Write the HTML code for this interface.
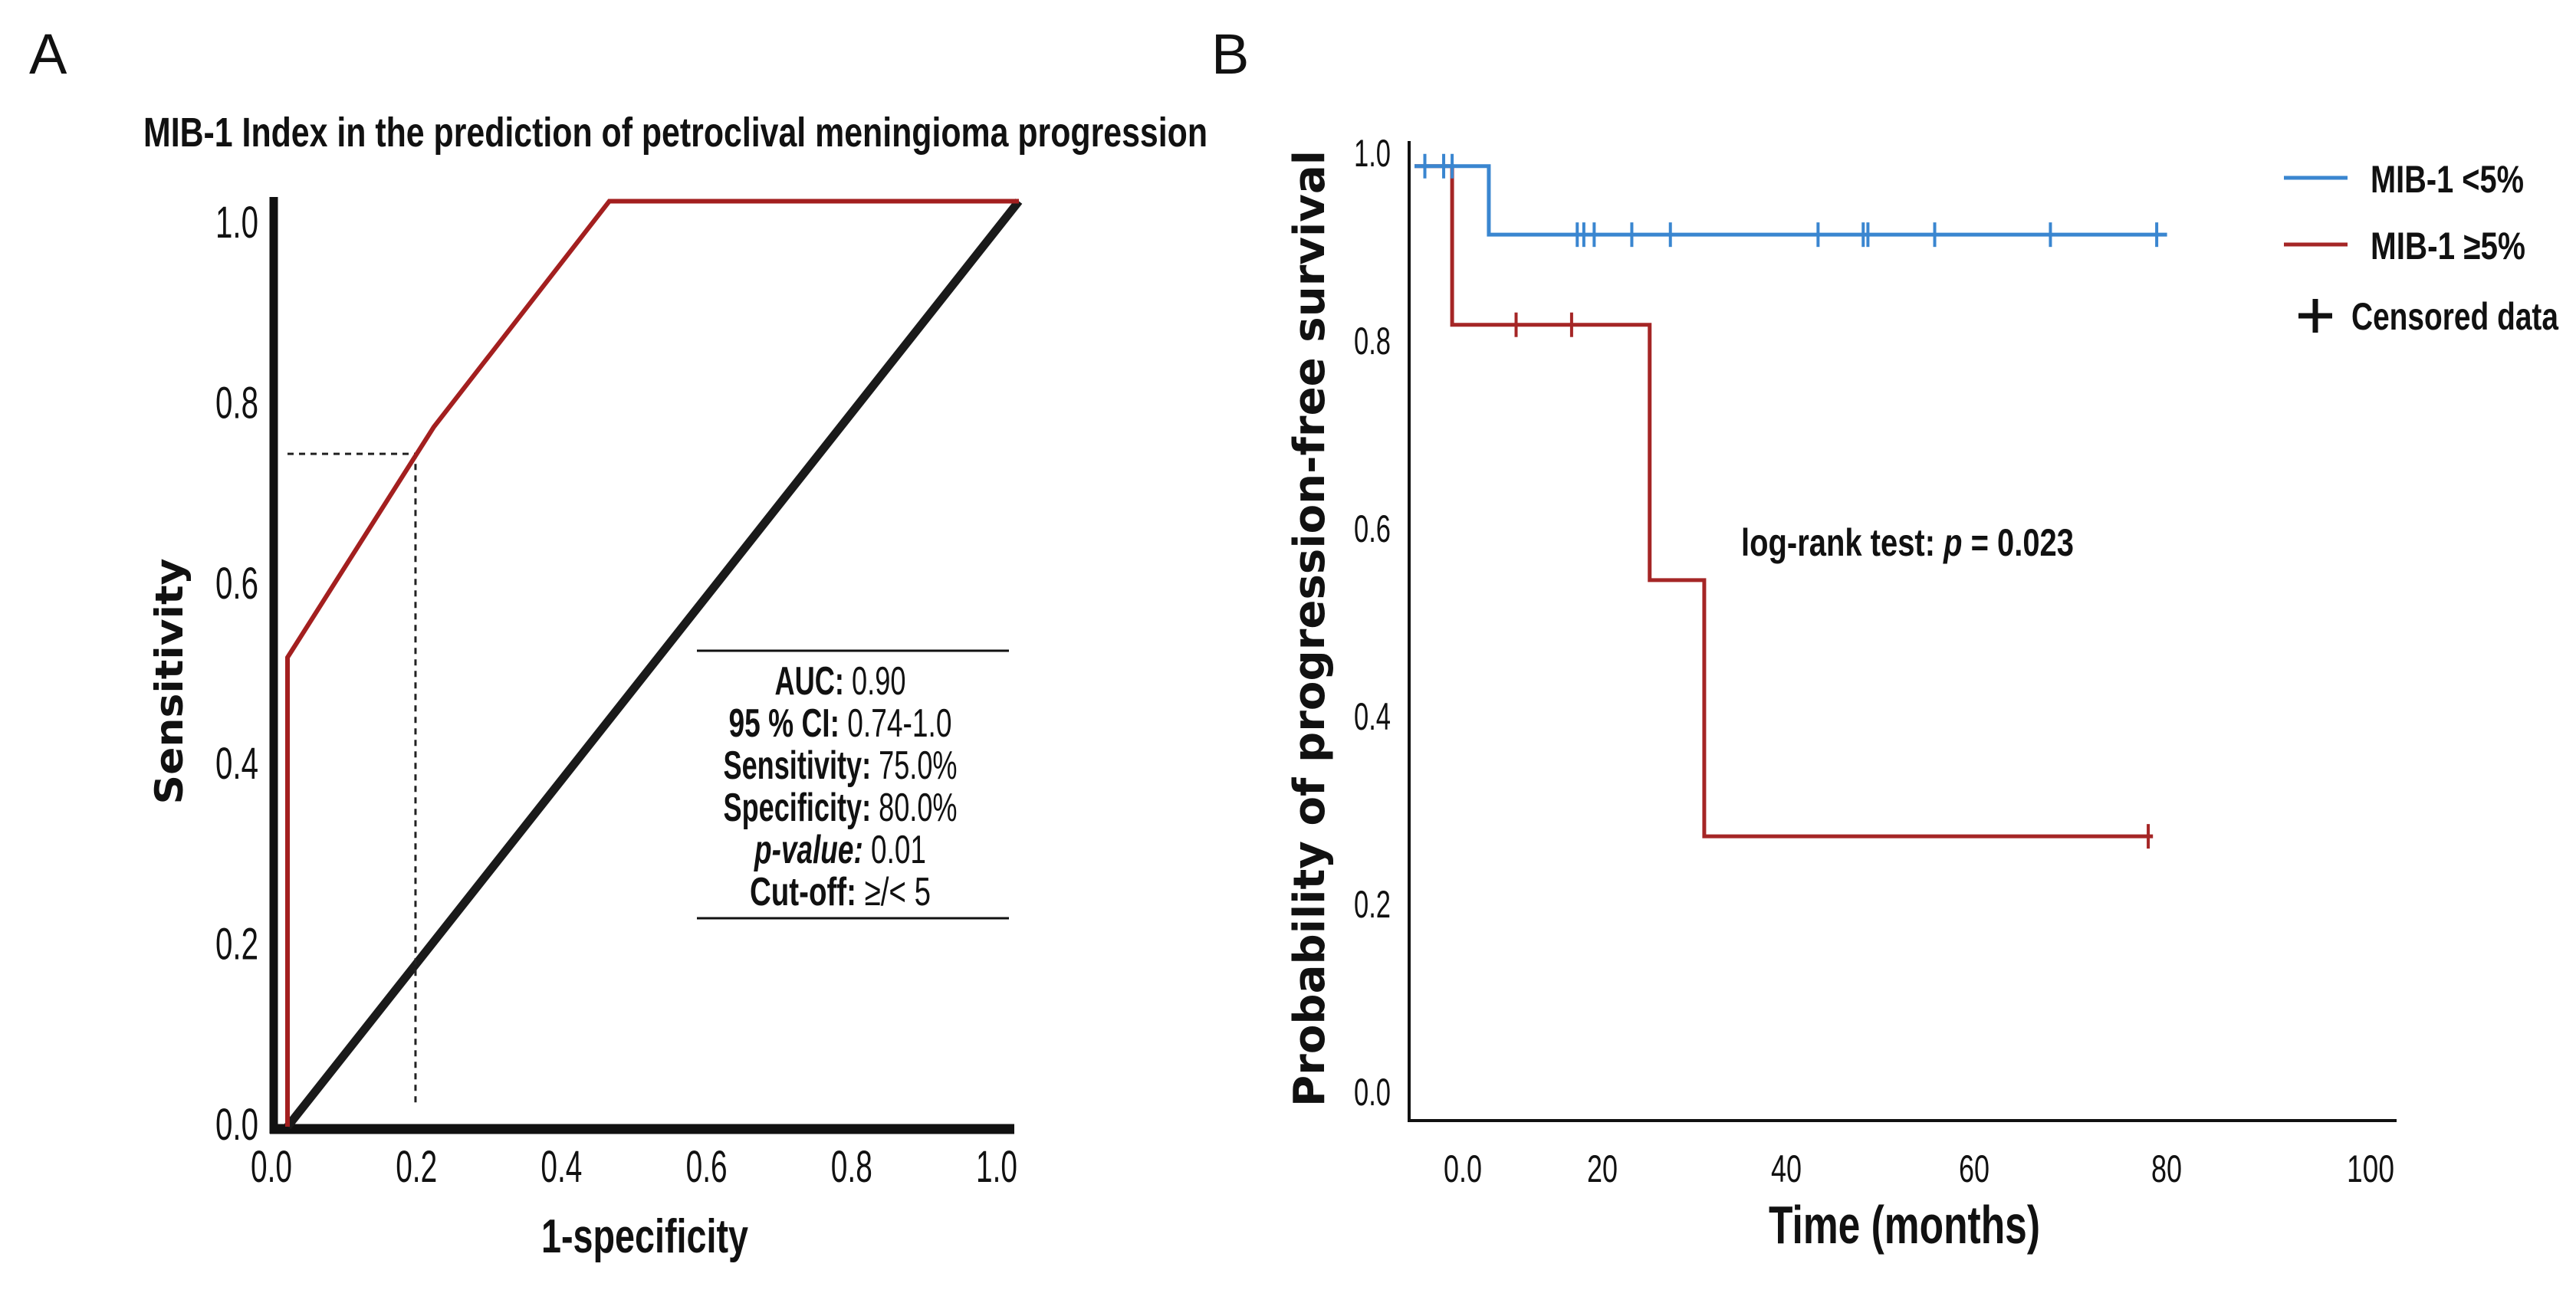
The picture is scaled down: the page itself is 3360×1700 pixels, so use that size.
<!DOCTYPE html>
<html><head><meta charset="utf-8"><style>
html,body{margin:0;padding:0;background:#fff;}
svg{display:block;}
text{font-family:"Liberation Sans Narrow","Liberation Sans",sans-serif;fill:#111;}
</style></head><body>
<svg id="fig" width="3360" height="1700" viewBox="0 0 3360 1700">
<text x="38" y="96" font-size="74">A</text>
<text x="1580" y="96" font-size="74">B</text>
<text x="187" y="191" font-size="54" font-weight="bold" textLength="1388" lengthAdjust="spacingAndGlyphs">MIB-1 Index in the prediction of petroclival meningioma progression</text>
<g id="roc"></g>
<g id="km"></g>
</svg>
<script>
// ROC data
const rocX = [0.0, 0.0, 0.2, 0.44, 1.0];
const rocY = [0.0, 0.507, 0.756, 1.0, 1.0];
const diagX = [0, 1];
const diagY = [0, 1];
const cutX = 0.175;
const cutY = 0.727;
const rocTicks = [0.0, 0.2, 0.4, 0.6, 0.8, 1.0];
const rocTickLabels = ["0.0", "0.2", "0.4", "0.6", "0.8", "1.0"];
const statLabels = ["AUC:", "95 % CI:", "Sensitivity:", "Specificity:", "p-value:", "Cut-off:"];
const statValues = [" 0.90", " 0.74-1.0", " 75.0%", " 80.0%", " 0.01", " \u2265/< 5"];

// KM data
const blueT = [0, 7.9, 80];
const blueS = [0.985, 0.912, 0.912];
const blueCens = [1.1, 3.1, 4.0, 17.3, 18.0, 19.1, 23.1, 27.2, 42.9, 47.7, 48.2, 55.3, 67.6, 78.9];
const redT = [0, 4.0, 25.0, 30.8, 78.5];
const redS = [0.985, 0.816, 0.544, 0.271, 0.271];
const redCens = [10.8, 16.7, 78.0];
const kmYTicks = [0.0, 0.2, 0.4, 0.6, 0.8, 1.0];
const kmYLabels = ["0.0", "0.2", "0.4", "0.6", "0.8", "1.0"];
const kmXLabels = ["0.0", "20", "40", "60", "80", "100"];

const NS = "http://www.w3.org/2000/svg";
function mk(parent, tag, attrs, txt) {
  const e = document.createElementNS(NS, tag);
  for (const k in attrs) e.setAttribute(k, attrs[k]);
  if (txt !== undefined) e.textContent = txt;
  parent.appendChild(e);
  return e;
}
// ROC scales
const rx = v => 375 + v * 954;
const ry = v => 1470 - v * 1207.5;
const rlx = v => 354 + v * 946;
const rly = v => 1466 - v * 1177;
const roc = document.getElementById('roc');
let e;
e = mk(roc, 'line', {x1: 357, y1: 257, x2: 357, y2: 1479, stroke: '#111', 'stroke-width': 11});


e = mk(roc, 'line', {x1: 352, y1: 1473, x2: 1323, y2: 1473, stroke: '#111', 'stroke-width': 13});


e = mk(roc, 'polyline', {points: diagX.map((x, i) => rx(x) + ',' + ry(diagY[i])).join(' '), fill: 'none', stroke: '#1a1a1a', 'stroke-width': 11});


e = mk(roc, 'polyline', {points: rx(0) + ',' + ry(cutY) + ' ' + rx(cutX) + ',' + ry(cutY) + ' ' + rx(cutX) + ',' + 1445, fill: 'none', stroke: '#222', 'stroke-width': 3, 'stroke-dasharray': '8,7'});


e = mk(roc, 'polyline', {points: rocX.map((x, i) => rx(x) + ',' + ry(rocY[i])).join(' '), fill: 'none', stroke: '#a31f1f', 'stroke-width': 6});


rocTicks.forEach((v, i) => {
  let t = mk(roc, 'text', {x: 337, y: rly(v) + 21, 'font-size': 58, 'text-anchor': 'end', textLength: 56, lengthAdjust: 'spacingAndGlyphs'}, rocTickLabels[i]);
  
  
  t = mk(roc, 'text', {x: rlx(v), y: 1542, 'font-size': 58, 'text-anchor': 'middle', textLength: 54, lengthAdjust: 'spacingAndGlyphs'}, rocTickLabels[i]);
  
  
});
e = mk(roc, 'text', {x: 841, y: 1634, 'font-size': 62, 'font-weight': 'bold', 'text-anchor': 'middle', textLength: 270, lengthAdjust: 'spacingAndGlyphs'}, '1-specificity');


e = mk(roc, 'text', {x: 0, y: 0, 'font-size': 50, 'font-weight': 'bold', 'text-anchor': 'middle', transform: 'translate(238,889) rotate(-90)', textLength: 321, lengthAdjust: 'spacingAndGlyphs', style: 'font-family:"DejaVu Sans","Liberation Sans",sans-serif'}, 'Sensitivity');


e = mk(roc, 'line', {x1: 909, y1: 849, x2: 1316, y2: 849, stroke: '#111', 'stroke-width': 3});


e = mk(roc, 'line', {x1: 909, y1: 1198, x2: 1316, y2: 1198, stroke: '#111', 'stroke-width': 3});


const statWidths = [171, 291, 305, 305, 224, 236];
statLabels.forEach((lab, i) => {
  const t = mk(roc, 'text', {x: 1096, y: 906 + i * 55, 'font-size': 52, 'text-anchor': 'middle', textLength: statWidths[i], lengthAdjust: 'spacingAndGlyphs'});
  
  
  mk(t, 'tspan', {'font-weight': 'bold', 'font-style': i === 4 ? 'italic' : 'normal'}, lab);
  mk(t, 'tspan', {}, statValues[i]);
});

// KM scales
const kx = t => 1845 + t * 12.27;
const ky = v => 1423 - v * 1224.6;
const klx = [1908, 2090, 2330, 2575, 2826, 3092];
const km = document.getElementById('km');
e = mk(km, 'line', {x1: 1838, y1: 184, x2: 1838, y2: 1464, stroke: '#111', 'stroke-width': 4});


e = mk(km, 'line', {x1: 1836, y1: 1462, x2: 3126, y2: 1462, stroke: '#111', 'stroke-width': 4});


function stepPts(T, S) {
  const p = [];
  for (let i = 0; i < T.length; i++) {
    if (i > 0) p.push(kx(T[i]) + ',' + ky(S[i - 1]));
    p.push(kx(T[i]) + ',' + ky(S[i]));
  }
  return p.join(' ');
}
function survAt(T, S, t) { let s = S[0]; for (let i = 0; i < T.length; i++) if (T[i] <= t) s = S[i]; return s; }
e = mk(km, 'polyline', {points: stepPts(redT, redS), fill: 'none', stroke: '#a52626', 'stroke-width': 5});


redCens.forEach(t => {
  const c = mk(km, 'line', {x1: kx(t), x2: kx(t), y1: ky(survAt(redT, redS, t)) - 16, y2: ky(survAt(redT, redS, t)) + 16, stroke: '#a52626', 'stroke-width': 4});
  
  
});
e = mk(km, 'polyline', {points: stepPts(blueT, blueS), fill: 'none', stroke: '#3a86d0', 'stroke-width': 5});


blueCens.forEach(t => {
  const c = mk(km, 'line', {x1: kx(t), x2: kx(t), y1: ky(survAt(blueT, blueS, t)) - 16, y2: ky(survAt(blueT, blueS, t)) + 16, stroke: '#3a86d0', 'stroke-width': 4});
  
  
});
kmYTicks.forEach((v, i) => {
  const t = mk(km, 'text', {x: 1814, y: (1328 - v * 1143) * 1.0714 + 19, 'font-size': 50, 'text-anchor': 'end', textLength: 48, lengthAdjust: 'spacingAndGlyphs'}, kmYLabels[i]);
  
  
});
kmXLabels.forEach((lab, i) => {
  const t = mk(km, 'text', {x: klx[i], y: 1542, 'font-size': 50, 'text-anchor': 'middle', textLength: lab.length === 2 ? 40 : (lab === '100' ? 62 : 50), lengthAdjust: 'spacingAndGlyphs'}, lab);
  
  
});
e = mk(km, 'text', {x: 2484, y: 1622, 'font-size': 70, 'font-weight': 'bold', 'text-anchor': 'middle', textLength: 354, lengthAdjust: 'spacingAndGlyphs'}, 'Time (months)');


e = mk(km, 'text', {x: 0, y: 0, 'font-size': 56, 'font-weight': 'bold', 'text-anchor': 'middle', transform: 'translate(1727,820) rotate(-90)', textLength: 1248, lengthAdjust: 'spacingAndGlyphs', style: 'font-family:"DejaVu Sans","Liberation Sans",sans-serif'}, 'Probability of progression-free survival');


e = mk(km, 'text', {x: 2271, y: 725, 'font-size': 50, 'font-weight': 'bold', textLength: 434, lengthAdjust: 'spacingAndGlyphs'});


mk(e, 'tspan', {}, 'log-rank test: ');
mk(e, 'tspan', {'font-style': 'italic'}, 'p');
mk(e, 'tspan', {}, ' = 0.023');
// legend
e = mk(km, 'line', {x1: 2979, y1: 232, x2: 3062, y2: 232, stroke: '#3a86d0', 'stroke-width': 5});


e = mk(km, 'text', {x: 3092, y: 251, 'font-size': 50, 'font-weight': 'bold', textLength: 200, lengthAdjust: 'spacingAndGlyphs'}, 'MIB-1 <5%');


e = mk(km, 'line', {x1: 2979, y1: 319, x2: 3062, y2: 319, stroke: '#a52626', 'stroke-width': 5});


e = mk(km, 'text', {x: 3092, y: 338, 'font-size': 50, 'font-weight': 'bold', textLength: 202, lengthAdjust: 'spacingAndGlyphs'}, 'MIB-1 \u22655%');


e = mk(km, 'path', {d: 'M2998 412 H3042 M3020 390 V434', stroke: '#111', 'stroke-width': 7, fill: 'none'});


e = mk(km, 'text', {x: 3067, y: 430, 'font-size': 50, 'font-weight': 'bold', textLength: 270, lengthAdjust: 'spacingAndGlyphs'}, 'Censored data');


</script>
</body></html>
